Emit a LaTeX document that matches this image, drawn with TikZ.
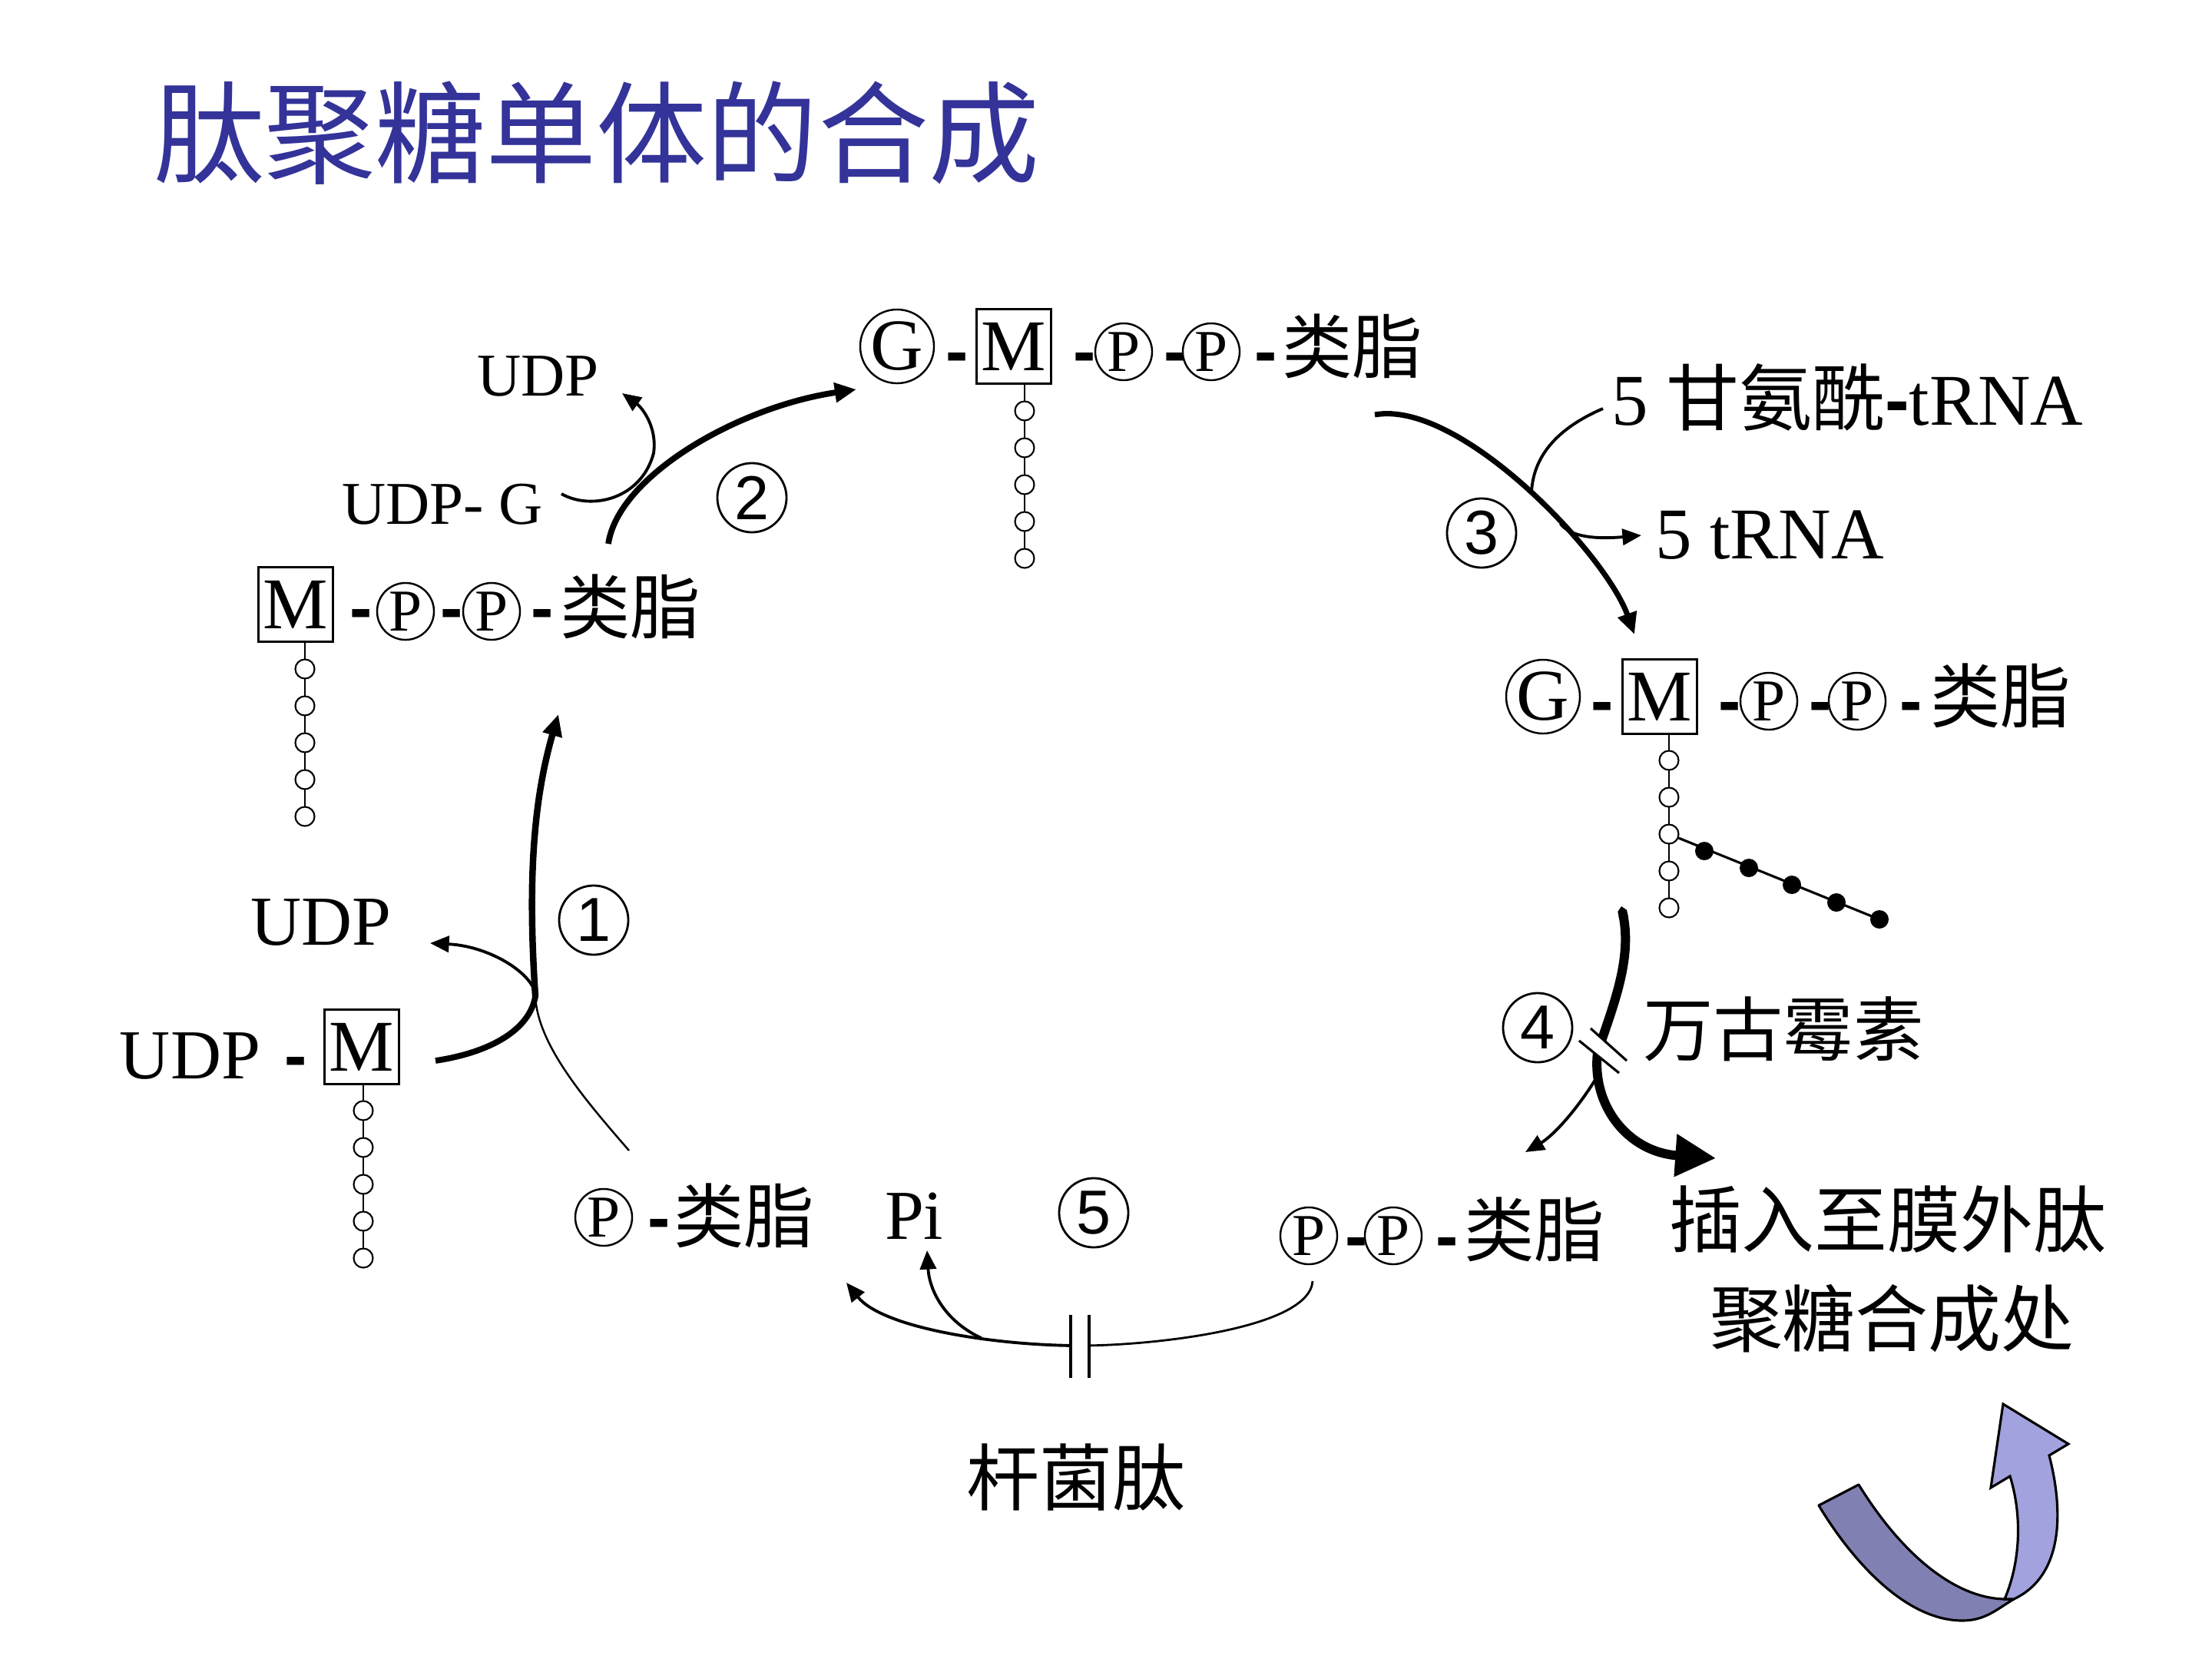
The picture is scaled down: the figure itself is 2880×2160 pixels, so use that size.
\documentclass[tikz,border=0pt]{standalone}
\usepackage{fontspec}
\setmainfont{Liberation Serif}
\newfontfamily\cjk{Noto Sans CJK SC}
\newfontfamily\sansf{Liberation Sans}
\usetikzlibrary{arrows.meta}
\newcommand\fsz[1]{\fontsize{#1}{#1}\selectfont}
\definecolor{titleblue}{RGB}{51,51,153}
\definecolor{arrdark}{RGB}{128,128,178}
\definecolor{arrlight}{RGB}{162,162,222}
\begin{document}
\begin{tikzpicture}[x=0.01cm,y=-0.01cm,
  every node/.style={inner sep=0pt, outer sep=0pt},
  cj/.style={font=\cjk\fsz{26pt}},
  pc/.style={circle, draw, line width=0.7pt, minimum size=0.74cm, font=\fsz{22pt}},
  gc/.style={circle, draw, line width=0.7pt, minimum size=0.96cm, font=\fsz{27pt}},
  mbox/.style={rectangle, draw, line width=0.7pt, minimum size=0.97cm, font=\fsz{27pt}},
  dsh/.style={anchor=base, font=\sansf\bfseries\fsz{25pt}},
  num/.style={circle, draw, line width=0.8pt, minimum size=0.9cm, font=\sansf\fsz{23pt}},
  bead/.style={circle, draw, fill=white, line width=0.6pt, minimum size=0.25cm},
  bdot/.style={circle, fill=black, minimum size=0.24cm},
  chainline/.style={line width=0.6pt},
  tip/.style={-{Triangle[length=8pt,width=7pt]}},
  stip/.style={-{Triangle[length=7pt,width=6pt]}},
  thin/.style={line width=1.1pt},
]
\useasboundingbox (0,0) rectangle (2880,2160);

% title
\node[anchor=west, text=titleblue, font=\cjk\fsz{41pt}] (title) at (200,173) {肽聚糖单体的合成};

% ---- top group: G-M-P-P-lipid
\node[gc] (gT) at (1168,451) {G};
\node[dsh] (dT1) at (1246,487) {-};
\node[mbox] (mT) at (1320,451) {M};
\node[dsh] (dT2) at (1412,487) {-};
\node[pc] (pT1) at (1463,458) {P};
\node[dsh] (dT3) at (1530,487) {-};
\node[pc] (pT2) at (1577,458) {P};
\node[dsh] (dT4) at (1648,487) {-};
\node[cj, anchor=west] (lT) at (1669,451) {类脂};
\foreach \i/\yy in {1/535,2/583,3/631,4/679,5/727}
  \coordinate (tc\i) at (1334,\yy);
\draw[chainline] (mT.south -| tc1) -- (tc5);
\foreach \i in {1,...,5} \node[bead] (tb\i) at (tc\i) {};

% ---- left group: M-P-P-lipid
\node[mbox] (mL) at (385,787) {M};
\node[dsh] (dL1) at (470,821) {-};
\node[pc] (pL1) at (528,796) {P};
\node[dsh] (dL2) at (588,821) {-};
\node[pc] (pL2) at (640,796) {P};
\node[dsh] (dL3) at (706,821) {-};
\node[cj, anchor=west] (lL) at (729,790) {类脂};
\foreach \i/\yy in {1/871,2/919,3/967,4/1015,5/1063}
  \coordinate (lc\i) at (397,\yy);
\draw[chainline] (mL.south -| lc1) -- (lc5);
\foreach \i in {1,...,5} \node[bead] (lb\i) at (lc\i) {};

% ---- right group: G-M-P-P-lipid with pentapeptide
\node[gc] (gR) at (2009,907) {G};
\node[dsh] (dR1) at (2086,942) {-};
\node[mbox] (mR) at (2161,907) {M};
\node[dsh] (dR2) at (2252,942) {-};
\node[pc] (pR1) at (2303,913) {P};
\node[dsh] (dR3) at (2370,942) {-};
\node[pc] (pR2) at (2418,913) {P};
\node[dsh] (dR4) at (2488,942) {-};
\node[cj, anchor=west] (lR) at (2513,906) {类脂};
\foreach \i/\yy in {1/990,2/1038,3/1086,4/1134,5/1182}
  \coordinate (rc\i) at (2173,\yy);
\foreach \i/\xx/\yy in {1/2219/1108,2/2277/1130,3/2333/1152,4/2391/1175,5/2447/1197}
  \coordinate (kc\i) at (\xx,\yy);
\draw[chainline] (mR.south -| rc1) -- (rc5);
\draw[line width=0.9pt] (rc3) -- (kc5);
\foreach \i in {1,...,5} \node[bead] (rb\i) at (rc\i) {};
\foreach \i in {1,...,5} \node[bdot] (kb\i) at (kc\i) {};

% ---- UDP-M
\node[anchor=base west, font=\fsz{26pt}] (udpM) at (156,1404) {UDP};
\node[dsh] (dU) at (385,1404) {-};
\node[mbox] (mU) at (471,1363) {M};
\foreach \i/\yy in {1/1446,2/1494,3/1542,4/1590,5/1638}
  \coordinate (uc\i) at (473,\yy);
\draw[chainline] (mU.south -| uc1) -- (uc5);
\foreach \i in {1,...,5} \node[bead] (ub\i) at (uc\i) {};
\node[anchor=base west, font=\fsz{26pt}] (udp1) at (326,1230) {UDP};

% ---- top-left labels
\node[anchor=base west, font=\fsz{22.5pt}] (udp2) at (621,515) {UDP};
\node[anchor=base west, font=\fsz{22.5pt}] (udpG) at (445,682) {UDP- G};

% ---- bottom lipids
\node[pc] (pB) at (786,1585) {P};
\node[dsh] (dB) at (858,1615) {-};
\node[cj, anchor=west] (lB) at (877,1583) {类脂};
\node[anchor=base west, font=\fsz{26pt}] (pi) at (1152,1613) {Pi};

\node[pc] (pC1) at (1704,1609) {P};
\node[dsh] (dC1) at (1766,1639) {-};
\node[pc] (pC2) at (1814,1609) {P};
\node[dsh] (dC2) at (1884,1639) {-};
\node[cj, anchor=west] (lC) at (1906,1601) {类脂};

% ---- other labels
\node[anchor=base west, font=\fsz{27pt}] (gly) at (2098,553) {5 {\cjk 甘氨酰}{\sansf\bfseries -}tRNA};
\node[anchor=base west, font=\fsz{27pt}] (trna) at (2155,727) {5 tRNA};
\node[anchor=west, font=\cjk\fsz{26pt}] (vanc) at (2139,1340) {万古霉素};
\node[anchor=west, font=\cjk\fsz{27pt}] (ins1) at (2173,1587) {插入至膜外肽};
\node[anchor=west, font=\cjk\fsz{27pt}] (ins2) at (2226,1717) {聚糖合成处};
\node[font=\cjk\fsz{27pt}] (baci) at (1401,1923) {杆菌肽};

\node[num] (n1) at (773,1198) {1};
\node[num] (n2) at (979,648) {2};
\node[num] (n3) at (1929,694) {3};
\node[num] (n4) at (2002,1338) {4};
\node[num] (n5) at (1424,1579) {5};

% ---- step 1
\coordinate (s1) at (819,1498);
\coordinate (j1) at (697,1297);
\coordinate (e1) at (727,930);
\coordinate (u1) at (567,1381);
\coordinate (u2) at (560,1228);
\draw[line width=0.7pt] (s1) .. controls (760,1430) and (700,1360) .. (j1);
\draw[line width=2.4pt, line cap=round, tip] (j1) .. controls (688,1160) and (692,1050) .. (e1);
\draw[line width=2.2pt] (u1) .. controls (640,1370) and (690,1340) .. (j1);
\draw[thin, stip] (j1) .. controls (697,1270) and (640,1232) .. (u2);

% ---- step 2
\coordinate (s2) at (792,708);
\coordinate (e2) at (1115,507);
\coordinate (g1) at (731,643);
\coordinate (g2) at (810,512);
\draw[line width=2.2pt, tip] (s2) .. controls (805,620) and (960,530) .. (e2);
\draw[thin, stip] (g1) .. controls (770,665) and (835,650) .. (851,590) .. controls (856,555) and (835,530) .. (g2);

% ---- step 3
\coordinate (s3) at (1790,540);
\coordinate (e3) at (2128,826);
\coordinate (t1) at (2087,532);
\coordinate (t2) at (2137,697);
\draw[line width=2pt, tip] (s3) .. controls (1900,520) and (2090,720) .. (e3)
  coordinate[pos=0.52] (j3a) coordinate[pos=0.62] (j3b);
\draw[thin] (t1) .. controls (2010,565) and (1995,610) .. (j3a);
\draw[thin, stip] (j3b) .. controls (2045,700) and (2080,702) .. (t2);

% ---- step 4
\coordinate (s4) at (2111,1180);
\coordinate (e4) at (2234,1508);
\coordinate (p4) at (1986,1500);
\draw[line width=3.4pt, {Triangle Cap}-{Triangle[length=15pt,width=15pt]}] (s4) .. controls (2125,1250) and (2100,1310) .. (2080,1370)
  .. controls (2072,1440) and (2120,1500) .. (e4) coordinate[pos=0.15] (j4);
\draw[thin, stip] (j4) .. controls (2050,1450) and (2020,1480) .. (p4);
\fill[white] (2056,1355) -- (2108,1397) -- (2118,1381) -- (2071,1339) -- cycle;
\draw[line width=0.9pt] (2056,1355) -- (2108,1397);
\draw[line width=0.9pt] (2071,1339) -- (2118,1381);

% ---- step 5
\coordinate (s5) at (1709,1668);
\coordinate (j5) at (1406,1752);
\coordinate (e5) at (1102,1670);
\coordinate (pi1) at (1207,1628);
\draw[line width=0.8pt] (s5) .. controls (1705,1730) and (1500,1752) .. (j5);
\draw[thin, stip] (j5) .. controls (1300,1752) and (1150,1730) .. (e5) coordinate[pos=0.37] (j5b);
\draw[thin, stip] (j5b) .. controls (1230,1720) and (1210,1680) .. (pi1);
\fill[white] (1396,1712) rectangle (1416,1794);
\draw[line width=0.9pt] (1394,1712) -- (1394,1794);
\draw[line width=0.9pt] (1418,1712) -- (1418,1794);

% ---- decorative purple arrow
\filldraw[fill=arrdark, draw=black, line width=0.9pt, line join=round]
  (2368,1960) -- (2420,1933) .. controls (2480,2030) and (2550,2082) .. (2612,2082)
  -- (2622,2082) .. controls (2600,2095) and (2585,2110) .. (2555,2110)
  .. controls (2480,2110) and (2410,2030) .. (2368,1960) -- cycle;
\filldraw[fill=arrlight, draw=black, line width=0.9pt, line join=miter]
  (2610,2082) .. controls (2632,2030) and (2632,1970) .. (2617,1922)
  -- (2592,1937) -- (2608,1828) -- (2693,1880) -- (2668,1895)
  .. controls (2685,1960) and (2690,2050) .. (2622,2082) -- cycle;
\end{tikzpicture}
\end{document}
